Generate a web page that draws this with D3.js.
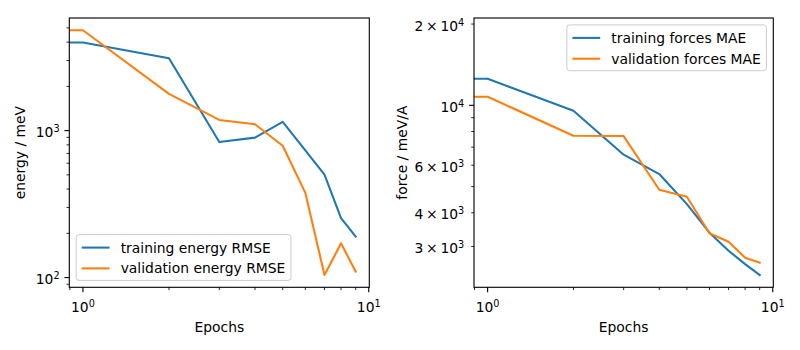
<!DOCTYPE html>
<html><head><meta charset="utf-8">
<script src="https://cdn.jsdelivr.net/npm/d3@7"></script>
<style>body{margin:0;background:#fff}svg{display:block}text{font-family:"DejaVu Sans",sans-serif}</style>
</head><body><svg id="c" width="800" height="350"></svg>
<script>
// ---- data ----
const epochs = [0, 1, 2, 3, 4, 5, 6, 7, 8, 9];
const trainEnergyRMSE = [4300, 3975, 3105, 836, 896, 1146, 733, 502, 254, 190];
const validEnergyRMSE = [4700, 4820, 1778, 1182, 1104, 789, 377, 104, 171, 110];
const trainForcesMAE = [18970, 12545, 9550, 6566, 5565, 4305, 3375, 2894, 2583, 2352];
const validForcesMAE = [15000, 10760, 7716, 7695, 4868, 4586, 3358, 3126, 2728, 2612];
const energyLabels = ["training energy RMSE", "validation energy RMSE"];
const forceLabels = ["training forces MAE", "validation forces MAE"];
const energyTickLabels = [100, 1000];          // labelled y ticks, left
const forceTickLabels = [3000, 4000, 6000, 10000, 20000]; // labelled y ticks, right
const xTickLabels = [1, 10];
const colors = ["#1f77b4", "#ff7f0e"];

const FS = 13.89;
const svg = d3.select("#c");

function logDomain(vals) {
  const v = vals.filter(d => d > 0);
  const lo = Math.log10(d3.min(v)), hi = Math.log10(d3.max(v));
  const m = (hi - lo) * 0.05;
  return [Math.pow(10, lo - m), Math.pow(10, hi + m)];
}

function mathLabel(sel, v) {
  const e = Math.floor(Math.log10(v) + 1e-9);
  const m = Math.round(v / Math.pow(10, e));
  const base = (m === 1 ? "" : m + "\u2009×\u2009") + "10";
  sel.append("tspan").text(base);
  sel.append("tspan").attr("font-size", FS * 0.7).attr("dy", -5).text(e);
}

function minorTicks(dom) {
  const out = [];
  const a = Math.floor(Math.log10(dom[0])), b = Math.ceil(Math.log10(dom[1]));
  for (let e = a; e <= b; e++) for (let k = 1; k <= 9; k++) {
    const v = k * Math.pow(10, e);
    if (v >= dom[0] * 0.9999 && v <= dom[1] * 1.0001) out.push({v, major: k === 1});
  }
  return out;
}

function panel(opt) {
  const {left, right, top, bottom, series, labels, yTickLabels, ylabel, ylabelX, legendLoc, id} = opt;
  const g = svg.append("g");
  const xDom = logDomain(epochs);
  const yDom = logDomain(series.flat());
  const x = d3.scaleLog().domain(xDom).range([left, right]);
  const y = d3.scaleLog().domain(yDom).range([bottom, top]);
  const dec = x(10) - x(1);
  const xPos = e => e > 0 ? x(e) : x(1) - 1000 * dec;

  svg.append("clipPath").attr("id", id).append("rect")
    .attr("x", left).attr("y", top).attr("width", right - left).attr("height", bottom - top);

  const line = d3.line().x((d, i) => xPos(epochs[i])).y(d => y(d));
  const lg = g.append("g").attr("clip-path", `url(#${id})`);
  series.forEach((s, i) => {
    lg.append("path").attr("d", line(s)).attr("fill", "none").attr("stroke", colors[i])
      .attr("stroke-width", 2.08).attr("stroke-linejoin", "round").attr("stroke-linecap", "square");
  });

  // ticks x
  minorTicks(xDom).forEach(t => {
    const px = x(t.v);
    g.append("line").attr("x1", px).attr("x2", px).attr("y1", bottom).attr("y2", bottom + (t.major ? 4.86 : 2.78))
      .attr("stroke", "#000").attr("stroke-width", t.major ? 1.11 : 0.83);
  });
  xTickLabels.forEach(v => {
    const t = g.append("text").attr("x", x(v)).attr("y", bottom + 24.4).attr("text-anchor", "middle")
      .attr("font-size", FS).attr("fill", "#000");
    mathLabel(t, v);
  });
  // ticks y
  minorTicks(yDom).forEach(t => {
    const py = y(t.v);
    g.append("line").attr("x1", left).attr("x2", left - (t.major ? 4.86 : 2.78)).attr("y1", py).attr("y2", py)
      .attr("stroke", "#000").attr("stroke-width", t.major ? 1.11 : 0.83);
  });
  yTickLabels.forEach(v => {
    const t = g.append("text").attr("x", left - 9.7).attr("y", y(v) + 6.5).attr("text-anchor", "end")
      .attr("font-size", FS).attr("fill", "#000");
    mathLabel(t, v);
  });
  // spines
  g.append("rect").attr("x", left).attr("y", top).attr("width", right - left).attr("height", bottom - top)
    .attr("fill", "none").attr("stroke", "#000").attr("stroke-width", 1.11);

  g.append("text").attr("x", (left + right) / 2).attr("y", 331.5).attr("text-anchor", "middle")
    .attr("font-size", FS).text("Epochs");
  g.append("text").attr("transform", `translate(${ylabelX},${(top + bottom) / 2}) rotate(-90)`)
    .attr("text-anchor", "middle").attr("font-size", FS).text(ylabel);

  // legend
  const pad = 5.56, hl = 27.8, htp = 11.1, ls = 6.9, rh = 13.9, bap = 6.9;
  const leg = g.append("g");
  const frame = leg.append("rect");
  const texts = labels.map(l => leg.append("text").attr("font-size", FS).text(l));
  const tw = d3.max(texts, t => t.node().getComputedTextLength());
  const w = pad * 2 + hl + htp + tw, h = pad * 2 + rh * 2 + ls;
  const lx = legendLoc === "lower left" ? left + bap : right - bap - w;
  const ly = legendLoc === "lower left" ? bottom - bap - h : top + bap;
  frame.attr("x", lx).attr("y", ly).attr("width", w).attr("height", h).attr("rx", 2.8)
    .attr("fill", "#fff").attr("fill-opacity", 0.8).attr("stroke", "#cccccc").attr("stroke-width", 1);
  labels.forEach((l, i) => {
    const cy = ly + pad + rh / 2 + i * (rh + ls) + 0.5;
    leg.append("line").attr("x1", lx + pad).attr("x2", lx + pad + hl).attr("y1", cy).attr("y2", cy)
      .attr("stroke", colors[i]).attr("stroke-width", 2.08);
    texts[i].attr("x", lx + pad + hl + htp).attr("y", cy + 5);
  });
}

panel({left: 69.3, right: 369.3, top: 18, bottom: 287.3, series: [trainEnergyRMSE, validEnergyRMSE],
  labels: energyLabels, yTickLabels: energyTickLabels, ylabel: "energy / meV", ylabelX: 25,
  legendLoc: "lower left", id: "c1"});
panel({left: 474, right: 773.3, top: 18, bottom: 287.3, series: [trainForcesMAE, validForcesMAE],
  labels: forceLabels, yTickLabels: forceTickLabels, ylabel: "force / meV/A", ylabelX: 406.5,
  legendLoc: "upper right", id: "c2"});
</script></body></html>
